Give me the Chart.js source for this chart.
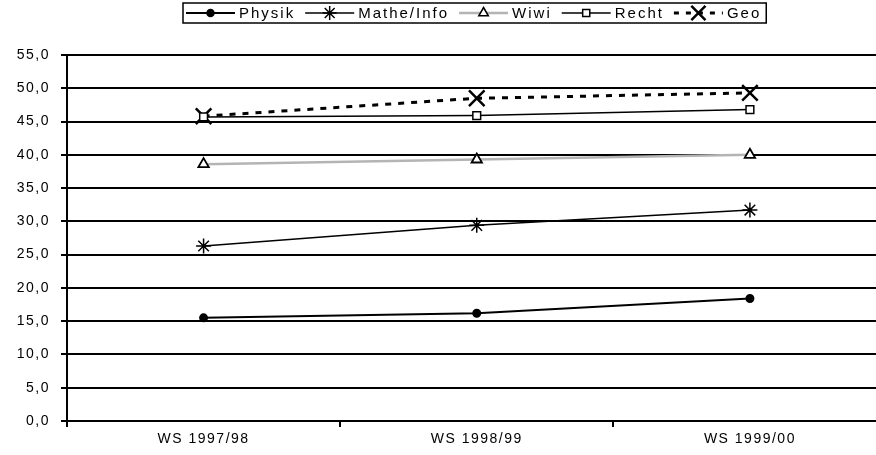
<!DOCTYPE html>
<html>
<head>
<meta charset="utf-8">
<script src="https://cdn.jsdelivr.net/npm/chart.js@4/dist/chart.umd.min.js"></script>
<style>
  html, body { margin: 0; padding: 0; background: #fff; overflow: hidden; }
  #wrap { position: relative; width: 900px; height: 455px; }
</style>
</head>
<body>
<div id="wrap"><canvas id="chart" width="900" height="455"></canvas></div>
<script>
var semester = ['WS 1997/98', 'WS 1998/99', 'WS 1999/00'];
var physik = [15.5, 16.2, 18.4];
var matheInfo = [26.3, 29.4, 31.7];
var wiwi = [38.6, 39.3, 40.0];
var recht = [45.7, 45.9, 46.8];
var geo = [45.8, 48.5, 49.3];
var yTicks = [0, 5, 10, 15, 20, 25, 30, 35, 40, 45, 50, 55];

var FONT = "'Liberation Sans', Arial, sans-serif";

// legend entries drawn by hand (line sample with marker in the middle)
var legendItems = [
    { text: 'Physik', color: '#000', width: 2, dash: [], point: 'circle', r: 3.5, fill: '#000' },
    { text: 'Mathe/Info', color: '#000', width: 1.5, dash: [], point: 'star', r: 7, fill: '#000' },
    { text: 'Wiwi', color: '#b4b4b4', width: 2.5, dash: [], point: 'triangle', r: 5.5, fill: '#fff' },
    { text: 'Recht', color: '#000', width: 1.5, dash: [], point: 'rect', r: 5, fill: '#fff' },
    { text: 'Geo', color: '#000', width: 3, dash: [5, 7], point: 'crossRot', r: 10, fill: '#000' }
];

var spacing = {
    id: 'spacing',
    beforeUpdate: function (chart) { chart.ctx.letterSpacing = '1.5px'; },
    beforeLayout: function (chart) { chart.ctx.letterSpacing = '1.5px'; },
    beforeDraw: function (chart) { chart.ctx.letterSpacing = '1.5px'; }
};

var handLegend = {
    id: 'handLegend',
    afterDraw: function (chart) {
        var ctx = chart.ctx;
        ctx.save();
        ctx.letterSpacing = '2px';
        ctx.font = '15px ' + FONT;
        ctx.textBaseline = 'middle';
        var left = 183, top = 3, h = 20;
        var x = left + 3, cy = top + h / 2;
        var sample = 49;
        legendItems.forEach(function (it) {
            ctx.beginPath();
            ctx.strokeStyle = it.color;
            ctx.lineWidth = it.width;
            ctx.setLineDash(it.dash);
            ctx.moveTo(x, cy);
            ctx.lineTo(x + sample, cy);
            ctx.stroke();
            ctx.setLineDash([]);
            ctx.strokeStyle = '#000';
            ctx.fillStyle = it.fill;
            ctx.lineWidth = it.point === 'crossRot' ? 2.5 : 1.5;
            Chart.helpers.drawPoint(ctx, { pointStyle: it.point, radius: it.r, rotation: 0, borderWidth: ctx.lineWidth }, x + sample / 2, cy);
            ctx.fillStyle = '#000';
            ctx.fillText(it.text, x + sample + 4, cy + 1);
            x += sample + 4 + ctx.measureText(it.text).width + 10;
        });
        ctx.strokeStyle = '#000';
        ctx.lineWidth = 1.5;
        ctx.strokeRect(left, top, x - left - 5, h);
        ctx.restore();
    }
};

var ctx = document.getElementById('chart').getContext('2d');
var chart = new Chart(ctx, {
    type: 'line',
    data: {
        labels: semester,
        datasets: [
            {
                label: 'Physik', data: physik,
                borderColor: '#000', borderWidth: 2,
                pointStyle: 'circle', pointRadius: 3.5,
                pointBackgroundColor: '#000', pointBorderColor: '#000'
            },
            {
                label: 'Mathe/Info', data: matheInfo,
                borderColor: '#000', borderWidth: 1.5,
                pointStyle: 'star', pointRadius: 7.5, pointBorderWidth: 1.5,
                pointBorderColor: '#000'
            },
            {
                label: 'Wiwi', data: wiwi,
                borderColor: '#b4b4b4', borderWidth: 2.5,
                pointStyle: 'triangle', pointRadius: 6, pointBorderWidth: 1.8,
                pointBackgroundColor: '#fff', pointBorderColor: '#000'
            },
            {
                label: 'Recht', data: recht,
                borderColor: '#000', borderWidth: 1.5,
                pointStyle: 'rect', pointRadius: 5.5, pointBorderWidth: 1.5,
                pointBackgroundColor: '#fff', pointBorderColor: '#000'
            },
            {
                label: 'Geo', data: geo,
                borderColor: '#000', borderWidth: 3, borderDash: [6, 7],
                pointStyle: 'crossRot', pointRadius: 11, pointBorderWidth: 2.5,
                pointBorderColor: '#000'
            }
        ]
    },
    options: {
        responsive: false,
        animation: false,
        devicePixelRatio: 1,
        layout: { padding: { left: 0, right: 11, top: 55, bottom: 0 } },
        plugins: {
            legend: { display: false },
            tooltip: { enabled: false }
        },
        elements: { line: { tension: 0 } },
        scales: {
            x: {
                offset: true,
                grid: {
                    offset: true, drawOnChartArea: false, drawTicks: true,
                    tickLength: 6, color: '#000', lineWidth: 2
                },
                border: { color: '#000', width: 2 },
                ticks: { color: '#000', font: { family: FONT, size: 14 }, padding: 4, maxRotation: 0 },
                afterFit: function (s) { s.height = 34; }
            },
            y: {
                min: 0, max: 55,
                afterBuildTicks: function (s) { s.ticks = yTicks.map(function (v) { return { value: v }; }); },
                grid: { color: '#000', lineWidth: 2, tickLength: 6 },
                border: { color: '#000', width: 2 },
                ticks: {
                    color: '#000', font: { family: FONT, size: 14 }, padding: 11,
                    callback: function (v) { return v.toFixed(1).replace('.', ','); }
                },
                afterFit: function (s) { s.width = 67; }
            }
        }
    },
    plugins: [spacing, handLegend]
});
</script>
</body>
</html>
